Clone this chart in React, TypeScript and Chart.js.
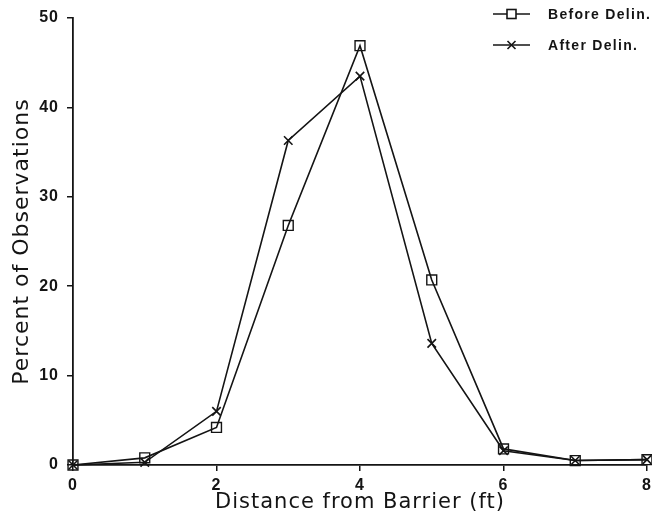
import React, { useEffect, useRef } from "react";
import { Chart, registerables } from "chart.js";

Chart.register(...registerables);

const distances = [0, 1, 2, 3, 4, 5, 6, 7, 8];
const beforeDelin = [0, 0.8, 4.2, 26.8, 46.9, 20.7, 1.8, 0.5, 0.6];
const afterDelin = [0, 0.3, 6.0, 36.3, 43.5, 13.6, 1.6, 0.5, 0.6];
const seriesLabels = ["Before Delin.", "After Delin."];
const xTitle = "Distance from Barrier (ft)";
const yTitle = "Percent of Observations";

const INK = "#141414";
const TITLE_FONT = "'DejaVu Sans', 'Liberation Sans', Arial, sans-serif";
const TICK_FONT = "'Liberation Sans', Arial, sans-serif";

const spacingPlugin = {
  id: "spacing",
  beforeUpdate(chart: any) {
    chart.ctx.letterSpacing = "1px";
  },
  beforeDraw(chart: any) {
    chart.ctx.letterSpacing = "1px";
  },
};

const legendPlugin = {
  id: "customLegend",
  afterDraw(chart: any) {
    const ctx = chart.ctx;
    const items = [
      { label: seriesLabels[0], style: "rect", y: 6 },
      { label: seriesLabels[1], style: "crossRot", y: 37 },
    ];
    ctx.save();
    ctx.letterSpacing = "1.3px";
    items.forEach((it) => {
      ctx.strokeStyle = INK;
      ctx.lineWidth = 1.6;
      ctx.beginPath();
      ctx.moveTo(485, it.y);
      ctx.lineTo(522, it.y);
      ctx.stroke();
      const cx = 503.5;
      if (it.style === "rect") {
        ctx.fillStyle = "#fff";
        ctx.fillRect(cx - 4.5, it.y - 4.5, 9, 9);
        ctx.strokeRect(cx - 4.5, it.y - 4.5, 9, 9);
      } else {
        ctx.beginPath();
        ctx.moveTo(cx - 4, it.y - 4);
        ctx.lineTo(cx + 4, it.y + 4);
        ctx.moveTo(cx + 4, it.y - 4);
        ctx.lineTo(cx - 4, it.y + 4);
        ctx.stroke();
      }
      ctx.fillStyle = INK;
      ctx.font = "bold 14px " + TICK_FONT;
      ctx.textBaseline = "middle";
      ctx.textAlign = "left";
      ctx.fillText(it.label, 540, it.y + 1);
    });
    ctx.restore();
  },
};

export default function App() {
  const ref = useRef<HTMLCanvasElement | null>(null);
  useEffect(() => {
    if (!ref.current) return;
    const tickFont = { family: TICK_FONT, size: 16, weight: "bold" as const };
    const chart = new Chart(ref.current, {
      type: "line",
      data: {
        labels: distances,
        datasets: [
          {
            label: seriesLabels[0],
            data: distances.map((d, i) => ({ x: d, y: beforeDelin[i] })),
            borderColor: INK,
            borderWidth: 1.6,
            pointStyle: "rect",
            pointRadius: 7,
            pointBorderWidth: 1.4,
            pointBackgroundColor: "rgba(255,255,255,0)",
            pointBorderColor: INK,
            tension: 0,
            clip: false as any,
          },
          {
            label: seriesLabels[1],
            data: distances.map((d, i) => ({ x: d, y: afterDelin[i] })),
            borderColor: INK,
            borderWidth: 1.6,
            pointStyle: "crossRot",
            pointRadius: 6,
            pointBorderWidth: 1.6,
            pointBorderColor: INK,
            tension: 0,
            clip: false as any,
          },
        ],
      },
      options: {
        animation: false,
        responsive: false,
        maintainAspectRatio: false,
        layout: { autoPadding: false, padding: { top: 10, right: 5, left: 0, bottom: 0 } },
        plugins: {
          legend: { display: false },
          tooltip: { enabled: false },
        },
        scales: {
          x: {
            type: "linear",
            min: 0,
            max: 8,
            afterFit: (s: any) => {
              s.height = 46;
              s.paddingLeft = 0;
              s.paddingRight = 0;
            },
            ticks: {
              stepSize: 2,
              color: INK,
              padding: 5,
              font: tickFont,
            },
            grid: {
              drawOnChartArea: false,
              drawTicks: true,
              tickLength: 6,
              color: INK,
              lineWidth: 1.5,
            },
            border: { display: true, color: INK, width: 1.8 },
            title: {
              display: true,
              text: xTitle,
              color: INK,
              font: { family: TITLE_FONT, size: 21, lineHeight: 1 },
              padding: { top: 0, bottom: -2 },
            },
          },
          y: {
            type: "linear",
            min: 0,
            max: 50,
            afterFit: (s: any) => {
              s.width = 65;
              s.paddingTop = 0;
              s.paddingBottom = 0;
            },
            ticks: {
              stepSize: 10,
              color: INK,
              padding: 8,
              font: tickFont,
            },
            grid: {
              drawOnChartArea: false,
              drawTicks: true,
              tickLength: 6,
              color: INK,
              lineWidth: 1.5,
            },
            border: { display: true, color: INK, width: 1.8 },
            title: {
              display: true,
              text: yTitle,
              color: INK,
              font: { family: TITLE_FONT, size: 22, lineHeight: 1 },
              padding: { top: 3, bottom: 0 },
            },
          },
        },
      },
      plugins: [spacingPlugin, legendPlugin],
    });
    return () => chart.destroy();
  }, []);
  return (
    <div style={{ width: 644, height: 503, background: "#fff" }}>
      <canvas ref={ref} width={644} height={503} style={{ display: "block" }} />
    </div>
  );
}
